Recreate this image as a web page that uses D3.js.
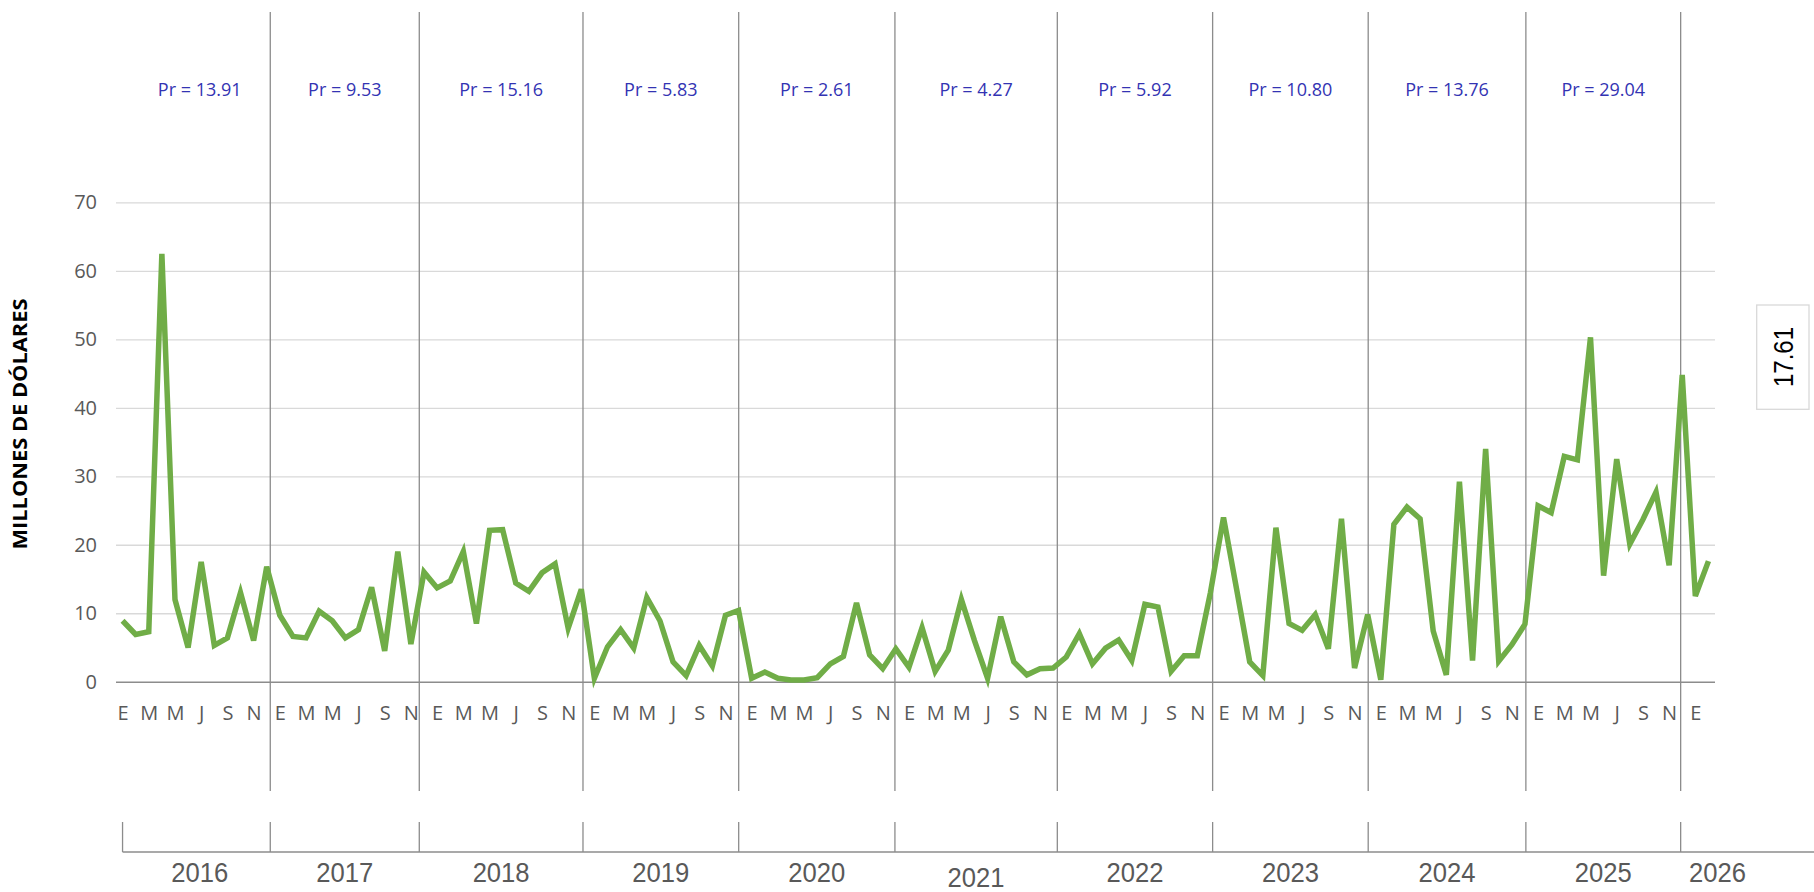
<!DOCTYPE html>
<html>
<head>
<meta charset="utf-8">
<script src="https://cdn.jsdelivr.net/npm/d3@7"></script>
<style>
  html, body { margin: 0; padding: 0; background: #ffffff; }
  svg { display: block; }
</style>
</head>
<body>
<svg id="chart" width="1814" height="892"></svg>
<script>
// ---------------- DATA ----------------
const years = [2016, 2017, 2018, 2019, 2020, 2021, 2022, 2023, 2024, 2025, 2026];
const monthLetters = ["E", "F", "M", "A", "M", "J", "J", "A", "S", "O", "N", "D"];
const yTickValues = [0, 10, 20, 30, 40, 50, 60, 70];
const prLabels = ["13.91", "9.53", "15.16", "5.83", "2.61", "4.27", "5.92", "10.80", "13.76", "29.04"];
const boxLabel = "17.61";
const yTitle = "MILLONES DE DÓLARES";

// monthly values, millions of dollars, Jan 2016 .. Feb 2026
const values2016 = [8.9, 6.9, 7.3, 62.5, 12.0, 5.0, 17.5, 5.3, 6.4, 13.0, 6.0, 16.8];
const values2017 = [9.7, 6.6, 6.4, 10.3, 8.9, 6.4, 7.6, 13.8, 4.5, 19.0, 5.5, 16.0];
const values2018 = [13.7, 14.7, 19.0, 8.5, 22.1, 22.2, 14.4, 13.2, 15.9, 17.2, 7.8, 13.5];
const values2019 = [0.5, 5.1, 7.6, 4.9, 12.3, 8.9, 2.9, 0.9, 5.3, 2.3, 9.7, 10.4];
const values2020 = [0.5, 1.4, 0.5, 0.25, 0.25, 0.6, 2.6, 3.7, 11.5, 3.9, 1.9, 4.8];
const values2021 = [2.1, 7.9, 1.5, 4.6, 12.0, 6.0, 0.5, 9.5, 2.9, 1.0, 1.9, 2.0];
const values2022 = [3.6, 7.0, 2.6, 4.9, 6.1, 3.1, 11.3, 10.9, 1.5, 3.8, 3.8, 13.0];
const values2023 = [24.0, 13.5, 2.9, 0.9, 22.5, 8.5, 7.5, 9.8, 4.8, 23.8, 2.0, 9.8];
const values2024 = [0.3, 23.0, 25.5, 23.8, 7.4, 1.0, 29.2, 3.1, 34.0, 3.0, 5.4, 8.4];
const values2025 = [25.7, 24.7, 32.9, 32.4, 50.3, 15.5, 32.5, 20.1, 23.7, 27.7, 17.0, 44.8];
const values2026 = [12.5, 17.61];

// year section boundaries, in month-index units
const yearBounds = [0.5, 11.27, 22.64, 35.13, 47.01, 58.93, 71.32, 83.17, 95.04, 107.07, 118.88, 124.5];

// ---------------- CHART ----------------
const values = [].concat(values2016, values2017, values2018, values2019, values2020,
  values2021, values2022, values2023, values2024, values2025, values2026);
const n = values.length;

const svg = d3.select("#chart");
const plotLeft = 116, plotRight = 1715;
const y0px = 681.7, y70px = 202.4;

const x = d3.scalePoint().domain(d3.range(n)).range([plotLeft, plotRight]).padding(0.5);
const y = d3.scaleLinear().domain([0, 70]).range([y0px, y70px]);
const xAt = b => x(0) + b * x.step();

const gray = "#595959";
const lineGray = "#8c8c8c";

// Y axis with gridlines
const yAxis = svg.append("g")
  .attr("transform", `translate(${plotLeft},0)`)
  .call(d3.axisLeft(y).tickValues(yTickValues).tickSize(-(plotRight - plotLeft)).tickPadding(19).tickFormat(d3.format("d")));
yAxis.select(".domain").remove();
yAxis.selectAll(".tick line")
  .attr("stroke", d => d === 0 ? lineGray : "#d9d9d9")
  .attr("stroke-width", d => d === 0 ? 1.6 : 1.3);
yAxis.selectAll(".tick text")
  .attr("fill", gray)
  .style("font-family", "'Open Sans', sans-serif")
  .style("font-size", "20px");

// Month letters
const xAxis = svg.append("g")
  .attr("transform", `translate(0,${y0px})`)
  .call(d3.axisBottom(x).tickValues(d3.range(n).filter(i => i % 2 === 0))
    .tickFormat(i => monthLetters[i % 12]).tickSize(0).tickPadding(24));
xAxis.select(".domain").remove();
xAxis.selectAll(".tick text")
  .attr("fill", gray)
  .style("font-family", "'Open Sans', sans-serif")
  .style("font-size", "20px");

// Year dividers (upper, through the plot)
const dividers = yearBounds.slice(1, years.length);
svg.append("g").selectAll("line.div").data(dividers).join("line")
  .attr("x1", d => xAt(d)).attr("x2", d => xAt(d))
  .attr("y1", 12).attr("y2", 791)
  .attr("stroke", lineGray).attr("stroke-width", 1.3);

// Lower year axis
svg.append("line")
  .attr("x1", xAt(0)).attr("x2", 1814).attr("y1", 852).attr("y2", 852)
  .attr("stroke", lineGray).attr("stroke-width", 1.6);
svg.append("g").selectAll("line.ytick").data([0].concat(dividers)).join("line")
  .attr("x1", d => xAt(d)).attr("x2", d => xAt(d))
  .attr("y1", 822).attr("y2", 852)
  .attr("stroke", lineGray).attr("stroke-width", 1.3);

// Year labels
svg.append("g").selectAll("text.year").data(years).join("text")
  .attr("x", (d, i) => (xAt(yearBounds[i]) + xAt(yearBounds[i + 1])) / 2)
  .attr("y", d => d === 2021 ? 887 : 882)
  .attr("text-anchor", "middle")
  .attr("textLength", 57).attr("lengthAdjust", "spacingAndGlyphs")
  .attr("fill", gray)
  .style("font-family", "'Liberation Sans', Arial, sans-serif")
  .style("font-size", "28px")
  .text(d => d);

// Pr labels
svg.append("g").selectAll("text.pr").data(prLabels).join("text")
  .attr("x", (d, i) => (xAt(yearBounds[i]) + xAt(yearBounds[i + 1])) / 2)
  .attr("y", 96)
  .attr("text-anchor", "middle")
  .attr("fill", "#3333b3")
  .style("font-family", "'Open Sans', sans-serif")
  .style("font-size", "18px")
  .text(d => "Pr = " + d);

// Data line
svg.append("path")
  .datum(values)
  .attr("fill", "none")
  .attr("stroke", "#70ad47")
  .attr("stroke-width", 5.5)
  .attr("stroke-linejoin", "miter")
  .attr("d", d3.line().x((d, i) => x(i)).y(d => y(d)));

// Y title
svg.append("text")
  .attr("transform", "translate(27,424) rotate(-90)")
  .attr("text-anchor", "middle")
  .attr("textLength", 251).attr("lengthAdjust", "spacingAndGlyphs")
  .attr("fill", "#000")
  .style("font-family", "'Open Sans', sans-serif")
  .style("font-weight", "bold")
  .style("font-size", "19px")
  .text(yTitle);

// Box on the right
svg.append("rect")
  .attr("x", 1756.7).attr("y", 305).attr("width", 52.3).attr("height", 104.3)
  .attr("fill", "#fff").attr("stroke", "#d9d9d9").attr("stroke-width", 1.3);
svg.append("text")
  .attr("transform", "translate(1793,357) rotate(-90)")
  .attr("text-anchor", "middle")
  .attr("textLength", 60).attr("lengthAdjust", "spacingAndGlyphs")
  .attr("fill", "#000")
  .style("font-family", "'Liberation Sans', Arial, sans-serif")
  .style("font-size", "28px")
  .text(boxLabel);
</script>
</body>
</html>
